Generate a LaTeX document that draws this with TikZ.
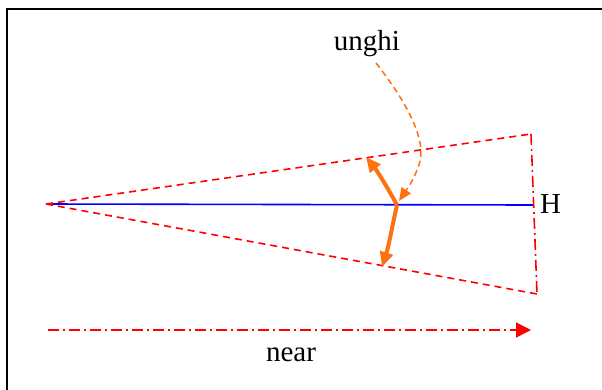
\documentclass[tikz,border=0pt]{standalone}
\usepackage{fontspec}
\setmainfont{Liberation Serif}
\usetikzlibrary{arrows.meta}
\tikzset{
  redline/.style={draw=red, line width=1.6pt},
  reddash/.style={redline, dash pattern=on 7pt off 5pt},
  reddashdot/.style={redline, dash pattern=on 11pt off 4pt on 2pt off 4pt},
  orangethick/.style={draw={rgb,255:red,255;green,112;blue,16}, line width=4pt, -{Triangle[length=15pt,width=13pt]}},
  orangedash/.style={draw={rgb,255:red,255;green,112;blue,16}, line width=1.5pt, dash pattern=on 6pt off 4pt, -{Triangle[length=13pt,width=11pt]}},
  lbl/.style={font=\fontsize{29}{31}\selectfont, inner sep=0pt}
}
\begin{document}
\begin{tikzpicture}[x=1pt,y=-1pt]
\useasboundingbox (0,0) rectangle (602,389);
\draw[line width=2pt] (7,392) -- (7,8.5) -- (605,8.5);
\coordinate (A) at (46,204);
\coordinate (U) at (531,134);
\coordinate (L) at (537,294);
\coordinate (E) at (533,205);
\coordinate (P) at (397,205);
\coordinate (Ut) at (366,157);
\coordinate (Lt) at (382,267);
\draw[blue, line width=1.6pt] (A) -- (E);
\draw[reddash] (A) -- (U);
\draw[reddash] (A) -- (L);
\draw[reddashdot] (U) -- (L);
\node[lbl, anchor=west] (H) at (540,204) {H};
\node[lbl] (ung) at (367,44) {unghi};
\node[lbl] (near) at (291,355) {near};
\coordinate (n1) at (48,330);
\coordinate (n2) at (531,330);
\draw[reddashdot, -{Triangle[length=15pt,width=15pt]}] (n1) -- (n2);
\coordinate (d0) at (376,63);
\draw[orangedash] (d0) .. controls (405,100) and (428,140) .. (419,165) .. controls (414,180) and (405,192) .. (399,201);
\draw[orangethick] (P) .. controls (390,192) and (378,172) .. (Ut);
\draw[orangethick] (P) .. controls (393,222) and (389,245) .. (Lt);
\end{tikzpicture}
\end{document}
